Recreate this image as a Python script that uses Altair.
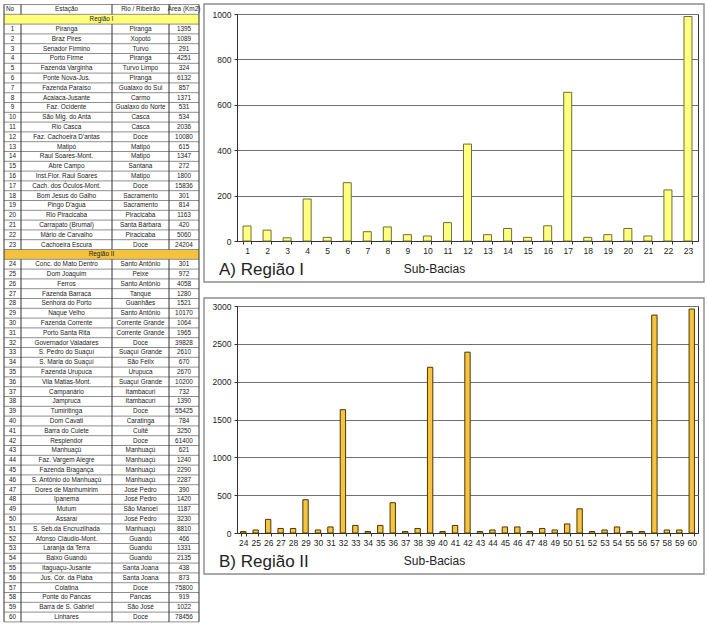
import altair as alt
import pandas as pd

# ---------------- data ----------------
header = ["No", "Estação", "Rio / Ribeirão", "Área (Km2)"]
region_labels = ["Região I", "Região II"]
region_sizes = [23, 37]

stations = [
    "Piranga", "Braz Pires", "Senador Firmino", "Porto Firme", "Fazenda Varginha",
    "Ponte Nova-Jus.", "Fazenda Paraíso", "Acaiaca-Jusante", "Faz. Ocidente",
    "São Mig. do Anta", "Rio Casca", "Faz. Cachoeira D'antas", "Matipó",
    "Raul Soares-Mont.", "Abre Campo", "Inst.Flor. Raul Soares",
    "Cach. dos Óculos-Mont.", "Bom Jesus do Galho", "Pingo D'agua",
    "Rio Piracicaba", "Carrapato (Brumal)", "Mário de Carvalho", "Cachoeira Escura",
    "Conc. do Mato Dentro", "Dom Joaquim", "Ferros", "Fazenda Barraca",
    "Senhora do Porto", "Naque Velho", "Fazenda Corrente", "Porto Santa Rita",
    "Governador Valadares", "S. Pedro do Suaçuí", "S. Maria do Suaçuí",
    "Fazenda Urupuca", "Vila Matias-Mont.", "Campanário", "Jampruca",
    "Tumiritinga", "Dom Cavati", "Barra do Cuiete", "Resplendor", "Manhuaçú",
    "Faz. Vargem Alegre", "Fazenda Bragança", "S. Antônio do Manhuaçú",
    "Dores de Manhumirim", "Ipanema", "Mutum", "Assaraí",
    "S. Seb.da Encruzilhada", "Afonso Cláudio-Mont.", "Laranja da Terra",
    "Baixo Guandú", "Itaguaçu-Jusante", "Jus. Cór. da Piaba", "Colatina",
    "Ponte do Pancas", "Barra de S. Gabriel", "Linhares",
]
rivers = [
    "Piranga", "Xopotó", "Turvo", "Piranga", "Turvo Limpo", "Piranga",
    "Gualaxo do Sul", "Carmo", "Gualaxo do Norte", "Casca", "Casca", "Doce",
    "Matipó", "Matipó", "Santana", "Matipo", "Doce", "Sacramento", "Sacramento",
    "Piracicaba", "Santa Bárbara", "Piracicaba", "Doce",
    "Santo Antônio", "Peixe", "Santo Antônio", "Tanque", "Guanhães",
    "Santo Antônio", "Corrente Grande", "Corrente Grande", "Doce",
    "Suaçuí Grande", "São Felix", "Urupuca", "Suaçuí Grande", "Itambacuri",
    "Itambacuri", "Doce", "Caratinga", "Cuitê", "Doce", "Manhuaçú", "Manhuaçú",
    "Manhuaçú", "Manhuaçú", "José Pedro", "José Pedro", "São Manoel",
    "José Pedro", "Manhuaçú", "Guandú", "Guandú", "Guandú", "Santa Joana",
    "Santa Joana", "Doce", "Pancas", "São José", "Doce",
]
areas = [
    1395, 1089, 291, 4251, 324, 6132, 857, 1371, 531, 534, 2036, 10080, 615,
    1347, 272, 1800, 15836, 301, 814, 1163, 420, 5060, 24204,
    301, 972, 4058, 1280, 1521, 10170, 1064, 1965, 39828, 2610, 670, 2670,
    10200, 732, 1390, 55425, 784, 3250, 61400, 621, 1240, 2290, 2287, 390,
    1420, 1187, 3230, 8810, 466, 1331, 2135, 438, 873, 75800, 919, 1022, 78456,
]

sub_r1 = [str(i) for i in range(1, 24)]
vals_r1 = [66, 48, 14, 185, 16, 257, 41, 62, 28, 22, 81, 427, 28, 55, 16, 67,
           655, 16, 28, 55, 22, 225, 989]
sub_r2 = [str(i) for i in range(24, 61)]
vals_r2 = [20, 40, 180, 60, 60, 440, 40, 80, 1630, 100, 20, 100, 400, 20, 60,
           2190, 20, 100, 2390, 20, 40, 80, 80, 20, 60, 40, 120, 320, 20, 40,
           80, 20, 20, 2880, 40, 40, 2960]
ticks_r1 = [0, 200, 400, 600, 800, 1000]
ticks_r2 = [0, 500, 1000, 1500, 2000, 2500, 3000]

# ---------------- style ----------------
FONT = "Liberation Sans"
TFS = 6.4
TABLE_W = 195
COL_EDGES = [0, 17, 108, 165, 195]
COL_CENTERS = [(a + b) / 2 for a, b in zip(COL_EDGES[:-1], COL_EDGES[1:])]
ROW_RANGE = [-9.5, 607.9]
BAND_COLORS = ["#FFFF78", "#F5C23E"]
N_ROWS = 1 + len(region_sizes) + len(stations)

# ---------------- table frames ----------------
cells, bands, band_rows = [], [], []
pos = 0
for j, h in enumerate(header[1:], start=1):
    cells.append(dict(row=pos + 0.5, px=COL_CENTERS[j], text=h))
pos += 1
k = 0
for r, (lab, size) in enumerate(zip(region_labels, region_sizes)):
    bands.append(dict(r1=pos, r2=pos + 1, c=BAND_COLORS[r]))
    band_rows.append(pos)
    cells.append(dict(row=pos + 0.5, px=TABLE_W / 2, text=lab))
    pos += 1
    for _ in range(size):
        vals = [str(k + 1), stations[k], rivers[k], str(areas[k])]
        for j, v in enumerate(vals):
            cells.append(dict(row=pos + 0.5, px=COL_CENTERS[j], text=v))
        pos += 1
        k += 1

cells_df = pd.DataFrame(cells)
bands_df = pd.DataFrame(bands)
hlines_df = pd.DataFrame({"row": list(range(N_ROWS + 1))})

vsegs = []
for x in (COL_EDGES[0], COL_EDGES[-1]):
    vsegs.append(dict(px=x, r1=0, r2=N_ROWS))
seg_starts = [0] + [b + 1 for b in band_rows]
seg_ends = band_rows + [N_ROWS]
for x in COL_EDGES[1:-1]:
    for a, b in zip(seg_starts, seg_ends):
        vsegs.append(dict(px=x, r1=a, r2=b))
vsegs_df = pd.DataFrame(vsegs)

yscale = alt.Scale(domain=[0, N_ROWS], range=ROW_RANGE)

band_layer = alt.Chart(bands_df).mark_rect().encode(
    x=alt.value(0), x2=alt.value(TABLE_W),
    y=alt.Y("r1:Q", scale=yscale, axis=None), y2="r2:Q",
    color=alt.Color("c:N", scale=None),
)
hline_layer = alt.Chart(hlines_df).mark_rule(color="#8f8f8f", strokeWidth=1).encode(
    x=alt.value(0), x2=alt.value(TABLE_W),
    y=alt.Y("row:Q", scale=yscale, axis=None),
)
vline_layer = alt.Chart(vsegs_df).mark_rule(color="#333333", strokeWidth=1).encode(
    x=alt.X("px:Q", scale=None),
    y=alt.Y("r1:Q", scale=yscale, axis=None), y2="r2:Q",
)
text_layer = alt.Chart(cells_df).mark_text(
    font=FONT, fontSize=TFS, color="#222222", align="center", baseline="middle"
).encode(
    x=alt.X("px:Q", scale=None),
    y=alt.Y("row:Q", scale=yscale, axis=None),
    text="text:N",
)
no_layer = alt.Chart(pd.DataFrame({"row": [0.5], "text": [header[0]]})).mark_text(
    font=FONT, fontSize=TFS, color="#222222", align="left", baseline="middle"
).encode(
    x=alt.value(2),
    y=alt.Y("row:Q", scale=yscale, axis=None),
    text="text:N",
)
table = alt.layer(band_layer, hline_layer, vline_layer, text_layer, no_layer).properties(
    width=TABLE_W, height=600,
    view=alt.ViewBackground(stroke="transparent"),
)


# ---------------- bar panels ----------------
def panel(subs, vals, ticks, fill, stroke, pad, label, frame_top):
    df = pd.DataFrame({"sub": subs, "v": vals})
    bars = alt.Chart(df).mark_bar(fill=fill, stroke=stroke, strokeWidth=1).encode(
        x=alt.X(
            "sub:O", sort=subs,
            scale=alt.Scale(paddingInner=pad, paddingOuter=pad / 2),
            axis=alt.Axis(
                title="Sub-Bacias", labelAngle=0, tickBand="extent", tickSize=3,
                labelPadding=2, labelFont=FONT, labelFontSize=8.5,
                labelColor="#222222", tickColor="#333333", domainColor="#333333",
                titleFont=FONT, titleFontSize=12, titleFontWeight="normal",
                titleColor="#222222", titleX=197, titleY=27.5,
                titleBaseline="middle", titleAlign="center", grid=False,
            ),
        ),
        y=alt.Y(
            "v:Q", scale=alt.Scale(domain=[ticks[0], ticks[-1]], nice=False),
            axis=alt.Axis(
                title=None, values=ticks, grid=True, gridColor="#707070",
                gridWidth=1, tickSize=3, labelPadding=3, labelFont=FONT,
                labelFontSize=8.5, labelColor="#222222", tickColor="#333333",
                domainColor="#333333", format="d",
            ),
        ),
    )
    one = pd.DataFrame({"t": [label]})
    frame = alt.Chart(one).mark_rect(
        fillOpacity=0, stroke="#8c8c8c", strokeWidth=1.4
    ).encode(
        x=alt.value(-33), x2=alt.value(467),
        y=alt.value(frame_top), y2=alt.value(268),
    )
    lab = alt.Chart(one).mark_text(
        font=FONT, fontSize=17, color="#222222", align="left", baseline="middle"
    ).encode(x=alt.value(-18), y=alt.value(255.5), text="t:N")
    return alt.layer(frame, bars, lab).properties(
        width=461, height=227,
        view=alt.ViewBackground(stroke="#333333", strokeWidth=1),
    )


chart_a = panel(sub_r1, vals_r1, ticks_r1, "#FFFF80", "#6e6e3a", 0.6,
                "A) Região I", -10)
chart_b = panel(sub_r2, vals_r2, ticks_r2, "#F6C443", "#4d3800", 0.57,
                "B) Região II", -8)

charts = alt.vconcat(chart_a, chart_b, spacing=65, bounds="flush")
chart = alt.hconcat(table, charts, spacing=38, bounds="flush").properties(
    padding={"left": 3, "top": 2, "right": 0, "bottom": 0},
    background="white",
)

chart.save("out.html", embed_options={"renderer": "svg", "actions": False})
